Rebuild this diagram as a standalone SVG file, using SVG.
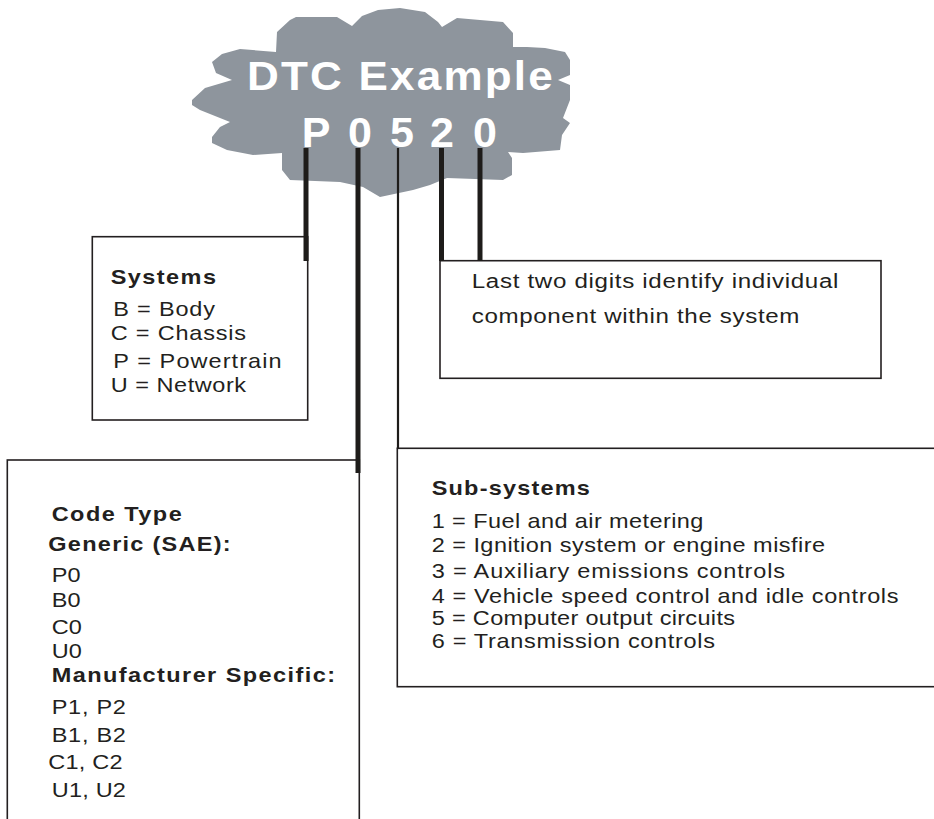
<svg xmlns="http://www.w3.org/2000/svg" width="934" height="819" viewBox="0 0 934 819">
<style>
  .box { fill: #ffffff; stroke: #231f20; stroke-width: 1.6; }
  .t { font-family: "Liberation Sans", Arial, sans-serif; font-size: 21px; fill: #231f20; }
  .b { font-family: "Liberation Sans", Arial, sans-serif; font-size: 21px; font-weight: bold; fill: #231f20; }
  .ct { font-family: "Liberation Sans", Arial, sans-serif; font-weight: bold; fill: #ffffff; }
  .thick { stroke: #1e1c1a; stroke-width: 5; fill: none; }
  .thin { stroke: #1e1c1a; stroke-width: 2.2; fill: none; }
</style>
<rect width="934" height="819" fill="#ffffff"/>

<g id="cloud">
  <polygon fill="#8e959d" points="192,100 205,88 232,80 216,73 212,62 222,54 240,49 276,52 277,32 290,20 296,17 337,17 352,26 362,16 378,10 400,8 425,12 438,22 442,27 457,18 503,22 513,33 513,47 527,47 545,48 565,52 570,60 570,75 558,80 570,85 570,100 563,118 570,123 562,135 560,150 523,153 508,152 512,158 512,175 503,180 447,178 430,185 413,190 380,197 363,187 340,182 290,180 282,170 282,153 253,155 227,150 212,143 212,137 220,127 230,122 200,110 192,105"/>
  <text class="ct" transform="translate(247 90) scale(1.1 1)" font-size="40" textLength="278" lengthAdjust="spacing">DTC Example</text>
  <text class="ct" font-size="43" text-anchor="middle" y="147"><tspan x="316">P</tspan><tspan x="360">0</tspan><tspan x="402">5</tspan><tspan x="442">2</tspan><tspan x="485">0</tspan></text>
</g>

<g id="systems">
  <rect class="box" x="92.3" y="236.7" width="215.4" height="183.3"/>
  <text class="b" transform="translate(110.7 284) scale(1.12 1)" textLength="94" lengthAdjust="spacing">Systems</text>
  <text class="t" transform="translate(113.3 316) scale(1.12 1)" textLength="90.8" lengthAdjust="spacing">B = Body</text>
  <text class="t" transform="translate(110.7 340) scale(1.12 1)" textLength="120.8" lengthAdjust="spacing">C = Chassis</text>
  <text class="t" transform="translate(113.3 368) scale(1.12 1)" textLength="150.3" lengthAdjust="spacing">P = Powertrain</text>
  <text class="t" transform="translate(110.7 391.7) scale(1.12 1)" textLength="120.8" lengthAdjust="spacing">U = Network</text>
</g>

<g id="codetype">
  <rect class="box" x="7.3" y="460" width="352" height="380"/>
  <text class="b" transform="translate(51.7 521) scale(1.12 1)" textLength="116.1" lengthAdjust="spacing">Code Type</text>
  <text class="b" transform="translate(48.3 551) scale(1.12 1)" textLength="162.8" lengthAdjust="spacing">Generic (SAE):</text>
  <text class="t" transform="translate(51.7 581.7) scale(1.12 1)">P0</text>
  <text class="t" transform="translate(51.7 606.7) scale(1.12 1)">B0</text>
  <text class="t" transform="translate(51.7 634) scale(1.12 1)">C0</text>
  <text class="t" transform="translate(51.7 658.3) scale(1.12 1)">U0</text>
  <text class="b" transform="translate(51.7 682.3) scale(1.12 1)" textLength="253" lengthAdjust="spacing">Manufacturer Specific:</text>
  <text class="t" transform="translate(51.7 714.3) scale(1.12 1)" textLength="66.3" lengthAdjust="spacing">P1, P2</text>
  <text class="t" transform="translate(51.7 741.7) scale(1.12 1)" textLength="66.3" lengthAdjust="spacing">B1, B2</text>
  <text class="t" transform="translate(48.3 769.3) scale(1.12 1)" textLength="66.3" lengthAdjust="spacing">C1, C2</text>
  <text class="t" transform="translate(51.7 796.7) scale(1.12 1)" textLength="66.3" lengthAdjust="spacing">U1, U2</text>
</g>

<g id="subsystems">
  <rect class="box" x="397.3" y="448.3" width="560" height="238.4"/>
  <text class="b" transform="translate(431.7 495) scale(1.12 1)" textLength="141.3" lengthAdjust="spacing">Sub-systems</text>
  <text class="t" transform="translate(431.7 528.3) scale(1.12 1)" textLength="242.6" lengthAdjust="spacing">1 = Fuel and air metering</text>
  <text class="t" transform="translate(431.7 551.7) scale(1.12 1)" textLength="351.2" lengthAdjust="spacing">2 = Ignition system or engine misfire</text>
  <text class="t" transform="translate(431.7 578.3) scale(1.12 1)" textLength="315.4" lengthAdjust="spacing">3 = Auxiliary emissions controls</text>
  <text class="t" transform="translate(431.7 603.3) scale(1.12 1)" textLength="416.7" lengthAdjust="spacing">4 = Vehicle speed control and idle controls</text>
  <text class="t" transform="translate(431.7 625) scale(1.12 1)" textLength="270.8" lengthAdjust="spacing">5 = Computer output circuits</text>
  <text class="t" transform="translate(431.7 648.3) scale(1.12 1)" textLength="252.9" lengthAdjust="spacing">6 = Transmission controls</text>
</g>

<g id="lastdigits">
  <rect class="box" x="440" y="260.7" width="441" height="117.6"/>
  <text class="t" transform="translate(471.7 288.3) scale(1.15 1)" font-size="20" textLength="318.9" lengthAdjust="spacing">Last two digits identify individual</text>
  <text class="t" transform="translate(471.7 323.3) scale(1.15 1)" font-size="20" textLength="285" lengthAdjust="spacing">component within the system</text>
</g>

<g id="connectors">
  <line class="thick" x1="306" y1="148" x2="306" y2="261"/>
  <line class="thick" x1="358" y1="148" x2="358" y2="473"/>
  <line class="thin" x1="398" y1="148" x2="398" y2="449"/>
  <line class="thick" x1="441.5" y1="148" x2="441.5" y2="261"/>
  <line class="thick" x1="480" y1="148" x2="480" y2="261"/>
</g>
</svg>
